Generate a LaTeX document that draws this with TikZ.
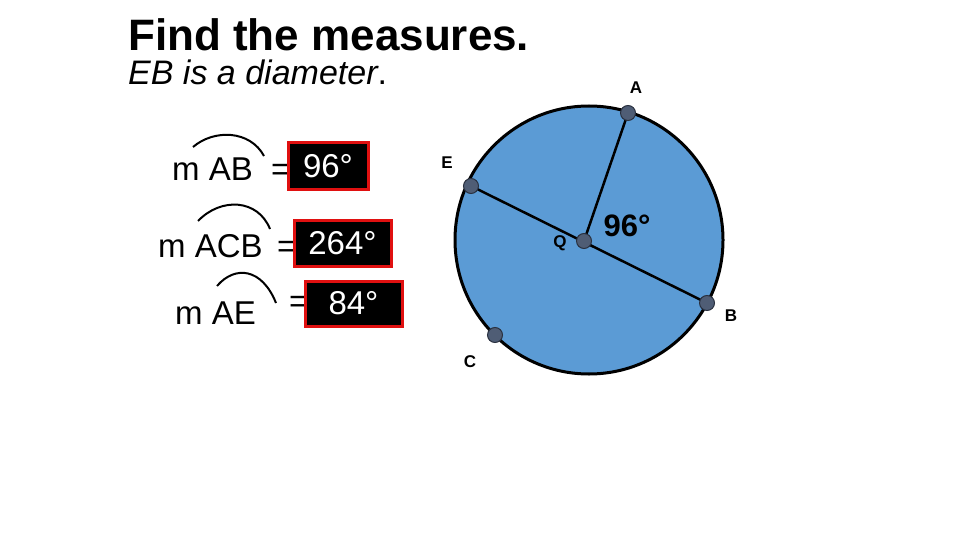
\documentclass[tikz,border=0pt]{standalone}
\usepackage{fontspec}
\setmainfont{Liberation Sans}
\usetikzlibrary{positioning}
\definecolor{diskblue}{HTML}{5B9BD5}
\definecolor{ptgray}{HTML}{4F5D75}
\definecolor{ptedge}{HTML}{2A3140}
\definecolor{boxred}{HTML}{E01010}
\tikzstyle{title} = [anchor=base west, inner sep=0pt, font=\fontsize{44}{50}\selectfont\bfseries]
\tikzstyle{subtitle} = [anchor=base west, inner sep=0pt, font=\fontsize{34}{38}\selectfont]
\tikzstyle{measure} = [anchor=base west, inner sep=0pt, font=\fontsize{33}{38}\selectfont]
\tikzstyle{answer} = [rectangle, draw=boxred, line width=3pt, fill=black, text=white, inner sep=0pt, font=\fontsize{33}{38}\selectfont]
\tikzstyle{disk} = [circle, draw=black, line width=3pt, fill=diskblue, minimum size=268pt, inner sep=0pt]
\tikzstyle{pt} = [circle, draw=ptedge, line width=1pt, fill=ptgray, minimum size=15pt, inner sep=0pt]
\tikzstyle{ptlabel} = [inner sep=0pt, font=\fontsize{17}{20}\selectfont\bfseries]
\tikzstyle{chord} = [line width=2.5pt, black]
\tikzstyle{hat} = [line width=2pt, black]

\begin{document}
\begin{tikzpicture}[x=1pt, y=-1pt]
\useasboundingbox (0,0) rectangle (960,540);

% heading
\node (head) [title] at (128,51) {Find the measures.};
\node (sub) [subtitle] at (128,85) {\textit{EB is a diameter}.};

% measures on the left
\node (mAB) [measure] at (172,181) {m AB};
\node (mACB) [measure] at (158,257) {m ACB};
\node (mAE) [measure] at (175,324) {m AE};
\node (eq1) [measure] at (271,181) {=};
\node (eq2) [measure] at (277,257) {=};
\node (eq3) [measure] at (289,312) {=};
\draw [hat] (193,147) .. controls (214,129) and (250,130) .. (264,156);
\draw [hat] (198,221) .. controls (221,197) and (258,199) .. (270,229);
\draw [hat] (217,286) .. controls (235,265) and (262,268) .. (276,303);

\node (b1) [answer, minimum width=80pt, minimum height=46pt] at (328,166) {96°};
\node (b2) [answer, minimum width=97pt, minimum height=46pt] at (342.5,243) {264°};
\node (b3) [answer, minimum width=97pt, minimum height=45pt] at (353.5,303.5) {84°};

% circle
\node (circ) [disk] at (589,240) {};
\coordinate (a) at (628,113);
\coordinate (e) at (471,186);
\coordinate (b) at (707,303);
\coordinate (c) at (495,335);
\coordinate (q) at (584,241);
\draw [chord] (e) -- (b);
\draw [chord] (q) -- (a);
\node (A) [pt] at (a) {};
\node (E) [pt] at (e) {};
\node (B) [pt] at (b) {};
\node (C) [pt] at (c) {};
\node (Q) [pt] at (q) {};

\node [ptlabel] at (636,88) {A};
\node [ptlabel] at (447,163) {E};
\node [ptlabel] at (560,243) {Q};
\node [ptlabel] at (731,316) {B};
\node [ptlabel] at (470,362) {C};
\node [inner sep=0pt, font=\fontsize{31}{36}\selectfont\bfseries] at (627,226) {96°};

\end{tikzpicture}
\end{document}
